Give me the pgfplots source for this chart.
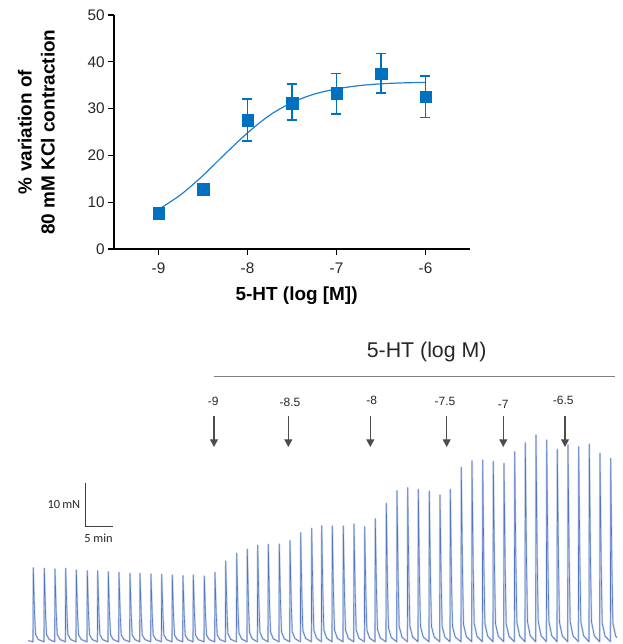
\documentclass[border=0pt]{standalone}
\usepackage{fontspec}
\setmainfont{Liberation Sans}
\newfontfamily\calib{Carlito}
\usepackage{pgfplots}
\pgfplotsset{compat=1.18}
\usetikzlibrary{arrows.meta}
\definecolor{markblue}{RGB}{0,112,192}
\definecolor{curveblue}{RGB}{30,128,210}
\definecolor{tracecol}{RGB}{82,118,196}
\definecolor{traceshade}{RGB}{196,210,236}
\definecolor{darkgrey}{RGB}{64,64,64}
\begin{document}
\begin{tikzpicture}
\useasboundingbox (0,0) rectangle (467.25pt,483pt);

% ---- concentration-response curve ----
\begin{axis}[
    at={(85.5pt,296.25pt)}, anchor=south west,
    scale only axis, width=267pt, height=175.5pt,
    xmin=-9.5, xmax=-5.5, ymin=0, ymax=50,
    axis x line*=bottom, axis y line*=left,
    axis line style={line width=1pt, black, -},
    xtick={-9,-8,-7,-6}, xticklabels={-9,-8,-7,-6},
    ytick={0,10,20,30,40,50}, yticklabels={0,10,20,30,40,50},
    tick align=outside, major tick length=4.5pt,
    tick style={line width=0.8pt, black},
    ticklabel style={font=\fontsize{11.5}{13}\selectfont, text=black!85},
    xticklabel style={yshift=-2.2pt},
    yticklabel style={xshift=1pt},
    xlabel={5-HT (log [M])},
    xlabel style={font=\bfseries\fontsize{14.2}{17}\selectfont,
                  at={(axis description cs:0.513,-0.2)}, anchor=center},
    ylabel={\% variation of\\80 mM KCl contraction},
    ylabel style={align=center, font=\bfseries\fontsize{14.2}{17.25}\selectfont,
                  at={(axis description cs:-0.218,0.5)}, anchor=center},
    clip=false,
  ]
  % fitted sigmoid
  \addplot[curveblue, line width=0.9pt, smooth] coordinates {
    (-9,8.45) (-8.75,11.6) (-8.5,15.7) (-8.25,20.35) (-8,24.8) (-7.75,28.6)
    (-7.5,31.3) (-7.25,33.1) (-7,34.2) (-6.75,34.9) (-6.5,35.3) (-6.25,35.5) (-6,35.6)
  };
  % mean +/- SEM
  \addplot[only marks, mark=square*, mark size=4.3pt,
           mark options={draw=markblue, fill=markblue, line width=0.3pt},
           error bars/.cd, y dir=both, y explicit,
           error bar style={markblue, line width=1.3pt},
           error mark options={rotate=90, mark size=3.75pt, line width=1.3pt, markblue}]
    table[x=x, y=y, y error plus=ep, y error minus=em] {
    x     y     ep   em
    -9    7.6   0    0
    -8.5  12.8  0.6  0.6
    -8    27.5  4.5  4.4
    -7.5  31.2  4.0  3.7
    -7    33.3  4.2  4.5
    -6.5  37.5  4.3  4.1
    -6    32.5  4.5  4.4
  };
\end{axis}

% ---- isometric tension trace (pixel units, height above baseline) ----
\pgfplotstableread{
x h
28 1
31 0.5
33.0 0
33.3 74.0
34.5 29.6
35.5 7.4
38.3 2.2
44.0 0
44.3 73.4
45.5 29.4
46.5 7.3
49.3 2.2
54.7 0
55.0 72.7
56.2 29.1
57.2 7.3
60.0 2.2
65.4 0
65.7 73.4
66.9 29.4
67.9 7.3
70.7 2.2
76.0 0
76.3 71.7
77.5 28.7
78.5 7.2
81.3 2.2
87.0 0
87.3 71.0
88.5 28.4
89.5 7.1
92.3 2.1
97.4 0
97.7 71.0
98.9 28.4
99.9 7.1
102.7 2.1
108.0 0
108.3 70.0
109.5 28.0
110.5 7.0
113.3 2.1
118.7 0
119.0 69.4
120.2 27.8
121.2 6.9
124.0 2.1
129.7 0
130.0 68.4
131.2 27.4
132.2 6.8
135.0 2.1
139.7 0
140.0 68.4
141.2 27.4
142.2 6.8
145.0 2.1
150.7 0
151.0 67.7
152.2 27.1
153.2 6.8
156.0 2.0
161.4 0
161.7 67.4
162.9 27.0
163.9 6.7
166.7 2.0
172.0 0
172.3 66.7
173.5 26.7
174.5 6.7
177.3 2.0
182.7 0
183.0 66.0
184.2 26.4
185.2 6.6
188.0 2.0
193.0 0
193.3 66.7
194.5 26.7
195.5 6.7
198.3 2.0
204.0 0
204.3 65.7
205.5 26.3
206.5 6.6
209.3 2.0
214.7 0
215.0 69.4
216.2 27.8
217.2 6.9
220.0 2.1
225.4 0
225.7 80.7
226.9 32.3
227.9 8.1
230.7 2.4
236.4 0
236.7 88.4
237.9 35.4
238.9 8.8
241.7 2.7
247.0 0
247.3 92.4
248.5 37.0
249.5 9.2
252.3 2.8
257.4 0
257.7 96.4
258.9 38.6
259.9 9.6
262.7 2.9
268.0 0
268.3 97.4
269.5 39.0
270.5 9.7
273.3 2.9
279.0 0
279.3 97.7
280.5 39.1
281.5 9.8
284.3 2.9
289.7 0
290.0 101.0
291.2 40.4
292.2 10.1
295.0 3.0
300.4 0
300.7 109.0
301.9 43.6
302.9 10.9
305.7 3.3
311.4 0
311.7 113.4
312.9 45.4
313.9 11.3
316.7 3.4
321.4 0
321.7 116.0
322.9 46.4
323.9 11.6
326.7 3.5
332.0 0
332.3 115.7
333.5 46.3
334.5 11.6
337.3 3.5
343.0 0
343.3 115.7
344.5 46.3
345.5 11.6
348.3 3.5
353.7 0
354.0 117.7
355.2 47.1
356.2 11.8
359.0 3.5
364.4 0
364.7 115.0
365.9 46.0
366.9 11.5
369.7 3.5
375.0 0
375.3 123.0
376.5 49.2
377.5 12.3
380.3 3.7
386.0 0
386.3 138.4
387.5 55.4
388.5 13.8
391.3 4.2
396.7 0
397.0 151.0
398.2 60.4
399.2 15.1
402.0 4.5
407.4 0
407.7 154.0
408.9 61.6
409.9 15.4
412.7 4.6
418.0 0
418.3 152.4
419.5 61.0
420.5 15.2
423.3 4.6
429.0 0
429.3 150.7
430.5 60.3
431.5 15.1
434.3 4.5
439.7 0
440.0 146.7
441.2 58.7
442.2 14.7
445.0 4.4
450.0 0
450.3 152.4
451.5 61.0
452.5 15.2
455.3 4.6
461.0 0
461.3 174.4
462.5 69.8
463.5 17.4
466.3 5.2
471.7 0
472.0 181.0
473.2 72.4
474.2 18.1
477.0 5.4
482.4 0
482.7 181.7
483.9 72.7
484.9 18.2
487.7 5.5
493.0 0
493.3 180.4
494.5 72.2
495.5 18.0
498.3 5.4
503.7 0
504.0 178.4
505.2 71.4
506.2 17.8
509.0 5.4
514.4 0
514.7 190.0
515.9 76.0
516.9 19.0
519.7 5.7
525.0 0
525.3 199.0
526.5 79.6
527.5 19.9
530.3 6.0
535.7 0
536.0 206.7
537.2 82.7
538.2 20.7
541.0 6.2
546.4 0
546.7 201.7
547.9 80.7
548.9 20.2
551.7 6.1
557.0 0
557.3 192.4
558.5 77.0
559.5 19.2
562.3 5.8
567.7 0
568.0 197.0
569.2 78.8
570.2 19.7
573.0 5.9
578.4 0
578.7 195.0
579.9 78.0
580.9 19.5
583.7 5.9
589.0 0
589.3 197.7
590.5 79.1
591.5 19.8
594.3 5.9
599.7 0
600.0 188.4
601.2 75.4
602.2 18.8
605.0 5.7
610.4 0
610.7 183.4
611.9 73.4
612.9 18.3
615.7 5.5
617 4
}\tracedata

\begin{axis}[
    at={(0pt,1.7pt)}, anchor=south west,
    x=0.75pt, y=0.75pt,
    xmin=0, xmax=623, ymin=0, ymax=220,
    hide axis, clip=false,
  ]
  \addplot[traceshade, line width=1.4pt, line join=round] table[x=x, y=h] {\tracedata};
  \addplot[tracecol, line width=0.45pt, line join=round] table[x=x, y=h] {\tracedata};
\end{axis}

% ---- annotations, in pixel coordinates of the figure ----
\begin{scope}[x=0.75pt, y=-0.75pt, yshift=483pt]
  \node[font=\fontsize{16}{19}\selectfont, text=black!85] at (426.7,351.7) {5-HT (log M)};
  \draw[line width=1.1pt, black!50] (214,376.7) -- (615,376.7);
  \foreach \xa/\xl/\yl/\lab in {214/213.3/401.7/-9, 288.3/290/402.7/-8.5,
      370.3/371.7/400.7/-8, 446.7/445/401.7/-7.5, 503.3/503.3/404.5/-7, 565/563.3/400/-6.5}{
    \node[font=\fontsize{9}{11}\selectfont, text=black!85] at (\xl,\yl) {\lab};
    \draw[line width=0.9pt, black!70, -{Triangle[width=6pt,length=5.8pt]}] (\xa,416.5) -- (\xa,447);
  }
  % scale bar
  \draw[line width=0.75pt, darkgrey] (85,483.3) -- (85,526.7) -- (112.7,526.7);
  \node[font=\calib\fontsize{9.3}{11}\selectfont, anchor=east, inner sep=0pt, text=black!85] at (80.5,505) {10\,mN};
  \node[font=\calib\fontsize{9.3}{11}\selectfont, inner sep=0pt, text=black!85] at (98.5,538.3) {5 min};
\end{scope}
\end{tikzpicture}
\end{document}
